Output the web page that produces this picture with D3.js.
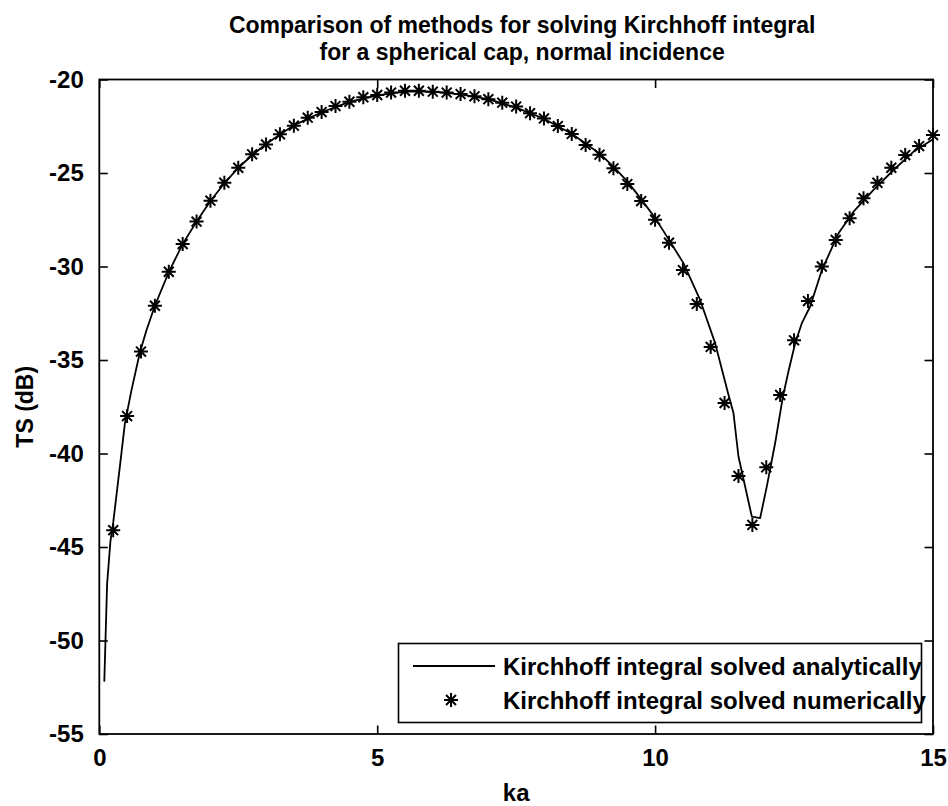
<!DOCTYPE html>
<html>
<head>
<meta charset="utf-8">
<script src="https://cdn.jsdelivr.net/npm/d3@7"></script>
<style>
  body { margin: 0; background: #fff; }
  text { font-family: "Liberation Sans", Arial, sans-serif; font-weight: bold; fill: #000; }
</style>
</head>
<body>
<div id="d3-container"></div>
<script>
/**
 * DATA
 * */
// analytic solution (solid line)
const lineKa = [0.09, 0.14, 0.2, 0.25, 0.37, 0.46, 0.58, 0.73, 0.85, 1.0,
  1.25, 1.5, 1.75, 2.0, 2.25, 2.5, 2.75, 3.0, 3.5, 4.0,
  4.5, 5.0, 5.5, 6.0, 6.5, 7.0, 7.5, 8.0, 8.5, 9.0,
  9.25, 9.5, 9.76, 10.0, 10.27, 10.51, 10.81, 11.08, 11.32, 11.41,
  11.5, 11.74, 11.89, 12.01, 12.16, 12.3, 12.4, 12.52, 12.64, 12.79,
  13.0, 13.3, 13.57, 13.93, 14.29, 14.65, 15.0];
const lineTS = [-52.2, -47.0, -44.7, -43.7, -40.7, -38.4, -36.6, -34.6, -33.4, -32.1,
  -30.3, -28.8, -27.6, -26.5, -25.55, -24.72, -24.05, -23.45, -22.45, -21.75,
  -21.2, -20.85, -20.65, -20.65, -20.8, -21.05, -21.5, -22.1, -22.9, -23.95,
  -24.66, -25.45, -26.44, -27.4, -28.67, -29.82, -31.79, -34.1, -36.86, -37.84,
  -40.16, -43.37, -43.45, -41.76, -39.44, -36.95, -35.6, -34.1, -33.03, -32.14,
  -30.2, -28.22, -27.07, -25.9, -24.84, -23.86, -23.2];

// numerical solution (asterisks), ka = 0.25 ... 15
const starKa = d3.range(1, 61).map(i => i * 0.25);
const starTS = [-44.1, -38.0, -34.55, -32.1, -30.28, -28.8, -27.6, -26.48, -25.52, -24.72,
  -24.0, -23.47, -22.93, -22.47, -22.04, -21.74, -21.42, -21.19, -20.95, -20.83,
  -20.7, -20.6, -20.6, -20.65, -20.7, -20.78, -20.9, -21.05, -21.24, -21.45,
  -21.8, -22.08, -22.49, -22.91, -23.5, -24.02, -24.75, -25.59, -26.5, -27.5,
  -28.73, -30.19, -32.0, -34.3, -37.3, -41.2, -43.82, -40.74, -36.87, -33.95,
  -31.85, -30.0, -28.58, -27.42, -26.35, -25.52, -24.72, -24.04, -23.56, -22.97];

const xTicks = [0, 5, 10, 15];
const yTicks = [-55, -50, -45, -40, -35, -30, -25, -20];
const titleLines = ["Comparison of methods for solving Kirchhoff integral",
  "for a spherical cap, normal incidence"];
const legendLabels = ["Kirchhoff integral solved analytically",
  "Kirchhoff integral solved numerically"];

/**
 * LAYOUT
 * */
const width = 948, height = 806,
  margin = { top: 79.5, right: 15, bottom: 72, left: 99.3 };
const tickLen = 8.5;
const fontTick = 24;

const svg = d3.select("#d3-container")
  .append("svg")
  .attr("width", width)
  .attr("height", height);

const x = d3.scaleLinear().domain([0, 15]).range([margin.left, width - margin.right]);
const y = d3.scaleLinear().domain([-55, -20]).range([height - margin.bottom, margin.top]);

// asterisk marker like matlab '*' : plus + cross
function star(r) {
  const d = r * Math.SQRT1_2;
  return `M${-r},0L${r},0M0,${-r}L0,${r}M${-d},${-d}L${d},${d}M${-d},${d}L${d},${-d}`;
}

// plain hyphen for negatives, like the original
const fmt = d => String(d);

const axisStyle = g => {
  g.selectAll(".domain").remove();
  g.selectAll(".tick line").attr("stroke", "#000").attr("stroke-width", 1.6);
  g.selectAll(".tick text")
    .style("font-size", fontTick + "px")
    .style("font-family", '"Liberation Sans", Arial, sans-serif')
    .style("font-weight", "bold")
    .attr("fill", "#000");
};

svg.append("g")
  .attr("transform", `translate(0,${y(-55)})`)
  .call(d3.axisBottom(x).tickValues(xTicks).tickSize(-tickLen).tickPadding(tickLen + 6).tickFormat(fmt))
  .call(axisStyle);

svg.append("g")
  .attr("transform", `translate(${x(0)},0)`)
  .call(d3.axisLeft(y).tickValues(yTicks).tickSize(-tickLen).tickPadding(tickLen + 7).tickFormat(fmt))
  .call(axisStyle);

svg.append("g")
  .attr("transform", `translate(0,${y(-20)})`)
  .call(d3.axisTop(x).tickValues(xTicks).tickSize(-tickLen).tickFormat(""))
  .call(axisStyle);

svg.append("g")
  .attr("transform", `translate(${x(15)},0)`)
  .call(d3.axisRight(y).tickValues(yTicks).tickSize(-tickLen).tickFormat(""))
  .call(axisStyle);

// frame
svg.append("rect")
  .attr("x", x(0)).attr("y", y(-20))
  .attr("width", x(15) - x(0)).attr("height", y(-55) - y(-20))
  .attr("fill", "none").attr("stroke", "#000").attr("stroke-width", 1.8);

// analytic line
const lineData = lineKa.map((k, i) => [k, lineTS[i]]);
svg.append("path")
  .datum(lineData)
  .attr("fill", "none")
  .attr("stroke", "#000")
  .attr("stroke-width", 1.8)
  .attr("stroke-linejoin", "round")
  .attr("d", d3.line().x(d => x(d[0])).y(d => y(d[1])));

// numerical asterisks
const starData = starKa.map((k, i) => [k, starTS[i]]);
svg.selectAll("path.star")
  .data(starData)
  .join("path")
  .attr("class", "star")
  .attr("fill", "none")
  .attr("stroke", "#000")
  .attr("stroke-width", 2)
  .attr("transform", d => `translate(${x(d[0])},${y(d[1])})`)
  .attr("d", star(7));

// title
svg.append("text")
  .attr("x", (x(0) + x(15)) / 2)
  .attr("y", 33)
  .attr("text-anchor", "middle")
  .style("font-size", "23px")
  .selectAll("tspan")
  .data(titleLines)
  .join("tspan")
  .attr("x", (x(0) + x(15)) / 2 + 6)
  .attr("dy", (d, i) => i ? 27 : 0)
  .text(d => d);

// axis labels
svg.append("text")
  .attr("x", (x(0) + x(15)) / 2)
  .attr("y", 801)
  .attr("text-anchor", "middle")
  .style("font-size", "24px")
  .text("ka");

svg.append("text")
  .attr("transform", `translate(33,${(y(-20) + y(-55)) / 2}) rotate(-90)`)
  .attr("text-anchor", "middle")
  .style("font-size", "23px")
  .text("TS (dB)");

// legend
const legend = svg.append("g");
legend.append("rect")
  .attr("x", 398.5).attr("y", 643.5)
  .attr("width", 523).attr("height", 79)
  .attr("fill", "#fff").attr("stroke", "#000").attr("stroke-width", 1.6);

const rowY = [666, 700];
legend.append("line")
  .attr("x1", 413).attr("x2", 495)
  .attr("y1", rowY[0]).attr("y2", rowY[0])
  .attr("stroke", "#000").attr("stroke-width", 1.8);
legend.append("path")
  .attr("transform", `translate(451,${rowY[1]})`)
  .attr("fill", "none").attr("stroke", "#000").attr("stroke-width", 2)
  .attr("d", star(7));
legend.selectAll("text.leg")
  .data(legendLabels)
  .join("text")
  .attr("class", "leg")
  .attr("x", 503)
  .attr("y", (d, i) => rowY[i])
  .attr("dy", "0.36em")
  .style("font-size", "24px")
  .text(d => d);
</script>
</body>
</html>
